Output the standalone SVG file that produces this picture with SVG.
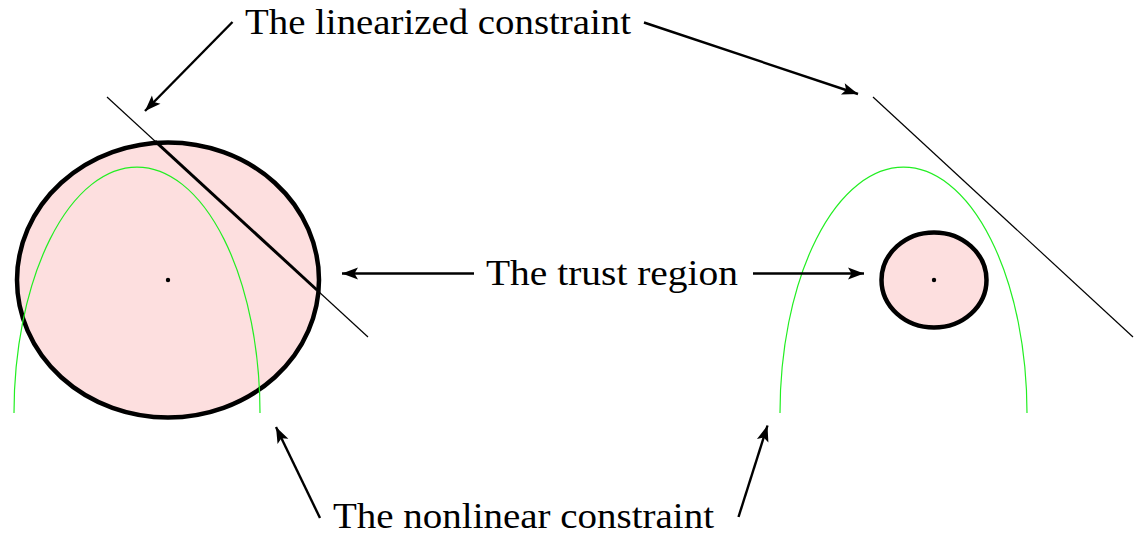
<svg xmlns="http://www.w3.org/2000/svg" width="1134" height="536" viewBox="0 0 1134 536">
  <style>
    .region { fill: #fddfdf; stroke: #000; stroke-width: 4.5; }
    .nonlin { fill: none; stroke: #22ee22; stroke-width: 1.2; }
    .lin { fill: none; stroke: #000; stroke-width: 1.2; }
    .linthick { fill: none; stroke: #000; stroke-width: 3; }
    .arrow { fill: none; stroke: #000; stroke-width: 2.4; marker-end: url(#head); }
    .label { font-family: 'Liberation Serif', serif; font-size: 35px; fill: #000; }
    .dot { fill: #000; }
  </style>
  <defs>
    <marker id="head" markerUnits="userSpaceOnUse" viewBox="-17 -7 19 14" refX="0" refY="0" markerWidth="19" markerHeight="14" orient="auto">
      <path d="M0,0 L-16,-6 L-12.5,0 L-16,6 Z" fill="#000"/>
    </marker>
  </defs>

  <g id="left-trust-region">
    <ellipse class="region" cx="168" cy="280" rx="151" ry="137.5"/>
    <circle class="dot" cx="168" cy="280" r="2.2"/>
  </g>
  <g id="left-nonlinear-constraint">
    <path class="nonlin" d="M14,413 A123,246 0 0 1 260,413"/>
  </g>
  <g id="left-linearized-constraint">
    <line class="lin" x1="107" y1="97" x2="368" y2="337"/>
    <line class="linthick" x1="155" y1="141.1" x2="317" y2="290"/>
  </g>

  <g id="right-trust-region">
    <ellipse class="region" cx="934" cy="280" rx="52.5" ry="47.5"/>
    <circle class="dot" cx="934" cy="280" r="2.2"/>
  </g>
  <g id="right-nonlinear-constraint">
    <path class="nonlin" d="M780,413 A123.5,246 0 0 1 1027,413"/>
  </g>
  <g id="right-linearized-constraint">
    <line class="lin" x1="873" y1="97" x2="1133" y2="337"/>
  </g>

  <g id="label-linearized">
    <text class="label" x="245" y="34" textLength="386" lengthAdjust="spacingAndGlyphs">The linearized constraint</text>
  </g>
  <g id="label-trust">
    <text class="label" x="486" y="285" textLength="252" lengthAdjust="spacingAndGlyphs">The trust region</text>
  </g>
  <g id="label-nonlinear">
    <text class="label" x="333" y="528" textLength="381" lengthAdjust="spacingAndGlyphs">The nonlinear constraint</text>
  </g>

  <g id="connectors">
    <line class="arrow" x1="232.5" y1="22" x2="145" y2="111"/>
    <line class="arrow" x1="644" y1="22.5" x2="858" y2="94"/>
    <line class="arrow" x1="474" y1="273.5" x2="342" y2="273.5"/>
    <line class="arrow" x1="753" y1="273.5" x2="864" y2="273.5"/>
    <line class="arrow" x1="320" y1="518" x2="276" y2="427"/>
    <line class="arrow" x1="738.5" y1="517" x2="767.5" y2="425.5"/>
  </g>
</svg>
